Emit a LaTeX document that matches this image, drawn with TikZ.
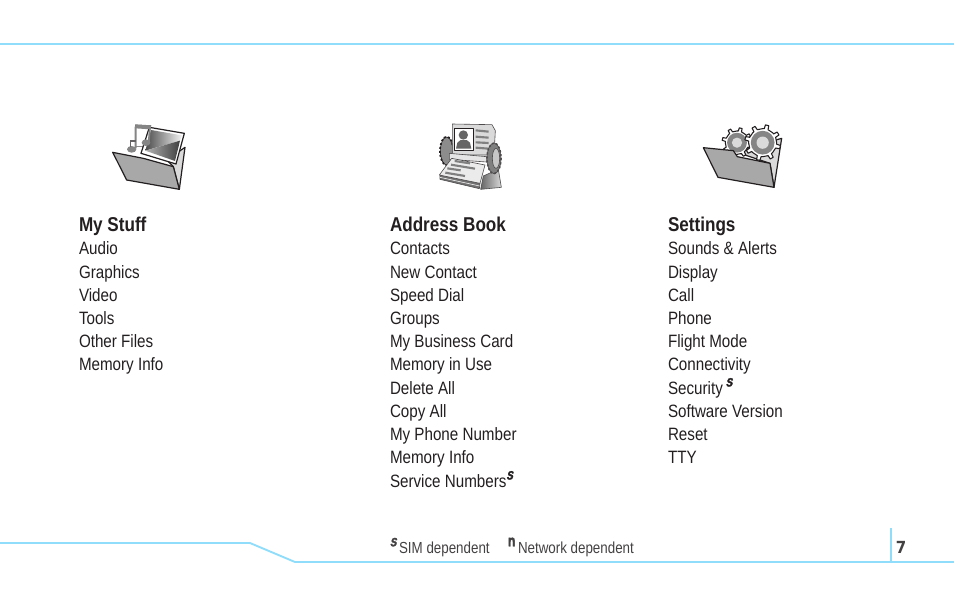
\documentclass[tikz,border=0pt]{standalone}
\usepackage{fontspec}
\setmainfont{Liberation Sans}
\newfontfamily\condfont[FakeStretch=0.85]{Liberation Sans}
\newfontfamily\headfont[FakeStretch=0.855]{Liberation Sans Bold}
\newfontfamily\notefont[FakeStretch=0.835]{Liberation Sans}
\newfontfamily\pagefont[FakeStretch=0.9]{DejaVu Sans Bold}
\newfontfamily\simfont[FakeBold=2.5,FakeSlant=0.2,FakeStretch=0.8]{Liberation Sans Bold}
\newfontfamily\netfont[FakeBold=2.5,FakeStretch=0.75]{Liberation Sans Bold}
\definecolor{rule}{HTML}{8FDDFA}
\definecolor{ink}{HTML}{231F20}
\definecolor{foldergray}{HTML}{A8A8A8}
\definecolor{midgray}{HTML}{858585}
\definecolor{lightgray2}{HTML}{DADADA}
\newcommand{\simmark}{\raisebox{.42em}{\fontsize{9pt}{9pt}\selectfont\simfont S}}
\newcommand{\netmark}{\raisebox{.42em}{\fontsize{12pt}{12pt}\selectfont\netfont n}}
\newcommand{\geardraw}[4]{%
  \fill[white,draw=ink,line width=.8pt,line join=round]
    ([shift={(#1,#2)}]0:#3*.78)
    \foreach \k [evaluate=\k as \bb using {(\k-1)*360/#4}, evaluate=\k as \ss using {360/#4}] in {1,...,#4} {
      -- ([shift={(#1,#2)}]\bb+\ss*.14:#3*.78)
      -- ([shift={(#1,#2)}]\bb+\ss*.2:#3)
      -- ([shift={(#1,#2)}]\bb+\ss*.44:#3)
      -- ([shift={(#1,#2)}]\bb+\ss*.5:#3*.78)
      -- ([shift={(#1,#2)}]\bb+\ss:#3*.78)
    } -- cycle;
  \fill[midgray] (#1,#2) circle[radius=#3*.66];
  \fill[lightgray2] (#1,#2) circle[radius=#3*.34];
}
\tikzset{
  x=.75pt,y=-.75pt,
  item/.style={anchor=base west,inner sep=0pt,outer sep=0pt,text=ink,font=\fontsize{13.4pt}{16pt}\condfont},
  head/.style={anchor=base west,inner sep=0pt,outer sep=0pt,text=ink,font=\fontsize{15pt}{18pt}\headfont},
  note/.style={anchor=base west,inner sep=0pt,outer sep=0pt,text=ink!85,font=\fontsize{12pt}{14pt}\notefont},
  rulel/.style={draw=rule,line width=1.4pt},
  outl/.style={draw=ink,line width=.9pt,line join=round},
  thinl/.style={draw=ink!80,line width=.45pt,line join=round},
  zoomed/.style={x=.25pt,y=-.25pt}
}
\begin{document}
\begin{tikzpicture}
\useasboundingbox (0,0) rectangle (954,593);
\fill[white] (0,0) rectangle (954,593);
% rules
\draw[rulel,line width=1.1pt] (0,44) -- (954,44);
\draw[rulel] (0,543) -- (250,543) -- (295,562) -- (954,562);
\draw[rulel] (891,528) -- (891,562);
% icon 1: folder with music and photo
\begin{scope}[shift={(90,110)},zoomed]
  \fill[lightgray2,outl] (230,150) -- (285,112) -- (268,238) -- (250,170) -- cycle;
  \fill[white,thinl] (136,45) -- (182,47) -- (178,110) -- (136,110) -- cycle;
  \fill[white,outl] (178,52) -- (283,70) -- (258,162) -- (153,130) -- cycle;
  \shade[left color=black!70,right color=black!5] (183,60) -- (276,76) -- (270,92) -- (166,122) -- cycle;
  \shade[left color=black!30,right color=black!75] (166,122) -- (270,92) -- (255,153) -- cycle;
  \fill[midgray] (136,43) -- (184,46) -- (182,58) -- (136,55) -- cycle;
  \draw[midgray,line width=1.4pt] (137,50) -- (137,115) (180,50) -- (176,100);
  \fill[midgray] (168,98) ellipse[x radius=13,y radius=10];
  \fill[midgray] (125,118) ellipse[x radius=14,y radius=10];
  \draw[ink!70,line width=.8pt] (122,110) -- (122,93) -- (138,93);
  \fill[foldergray,outl] (68,127) -- (160,145) -- (250,170) -- (268,238) -- (110,210) -- cycle;
\end{scope}
% icon 2: address card file
\begin{scope}[shift={(420,110)},zoomed]
  \fill[black!45,thinl,draw=ink] (80,123) ellipse[x radius=19,y radius=42];
  \draw[ink,line width=1.3pt,dash pattern=on 1.5pt off 1.5pt] (80,123) ellipse[x radius=20,y radius=43];
  \fill[lightgray2,thinl] (97,42) -- (216,44) -- (226,62) -- (222,135) -- (97,135) -- cycle;
  \fill[white,outl,line width=.6pt] (103,55) rectangle (160,122);
  \fill[black!60] (130,75) circle[radius=14];
  \fill[black!60] (108,116) -- (112,98) -- (122,90) -- (140,90) -- (150,98) -- (154,116) -- cycle;
  \draw[black!50,line width=1.6pt]
    (167,61) -- (206,65) (167,80) -- (206,83) (167,97) -- (206,99) (167,113) -- (206,116);
  \fill[black!10,thinl] (88,130) -- (200,140) -- (200,156) -- (88,148) -- cycle;
  \fill[black!55,thinl] (60,195) -- (180,220) -- (178,236) -- (60,208) -- cycle;
  \draw[white,line width=.4pt] (60,202) -- (179,228);
  \shade[left color=black!60,right color=black!15,thinl] (190,198) -- (235,178) -- (244,232) -- (182,238) -- cycle;
  \fill[black!8,thinl] (95,145) -- (195,165) -- (180,220) -- (58,195) -- cycle;
  \draw[black!50,line width=1.6pt]
    (104,153) -- (150,160) (93,164) -- (165,176) (82,175) -- (122,181) (76,188) -- (135,198);
  \fill[black!50,thinl] (222,145) ellipse[x radius=21,y radius=46];
  \draw[ink!80,line width=1.2pt,dash pattern=on 1.5pt off 1.5pt] (222,145) ellipse[x radius=21,y radius=46];
  \fill[black!22,thinl] (228,145) ellipse[x radius=11,y radius=30];
\end{scope}
% icon 3: folder with gears
\begin{scope}[shift={(690,110)},zoomed]
  \fill[lightgray2,outl] (135,125) -- (275,85) -- (252,232) -- (240,160) -- cycle;
  \geardraw{141}{98}{45}{8}
  \geardraw{218}{98}{54}{8}
  \fill[foldergray,outl] (40,113) -- (130,122) -- (142,140) -- (240,160) -- (252,232) -- (84,202) -- cycle;
\end{scope}
% column 1
\node[head] (a0) at (79,231) {My Stuff};
\node[item] (a1) at (79,254) {Audio};
\node[item] (a2) at (79,278) {Graphics};
\node[item] (a3) at (79,301) {Video};
\node[item] (a4) at (79,324) {Tools};
\node[item] (a5) at (79,347) {Other Files};
\node[item] (a6) at (79,370) {Memory Info};
% column 2
\node[head] (b0) at (390,231) {Address Book};
\node[item] (b1) at (390,254) {Contacts};
\node[item] (b2) at (390,278) {New Contact};
\node[item] (b3) at (390,301) {Speed Dial};
\node[item] (b4) at (390,324) {Groups};
\node[item] (b5) at (390,347) {My Business Card};
\node[item] (b6) at (390,370) {Memory in Use};
\node[item] (b7) at (390,394) {Delete All};
\node[item] (b8) at (390,417) {Copy All};
\node[item] (b9) at (390,440) {My Phone Number};
\node[item] (b10) at (390,463) {Memory Info};
\node[item] (b11) at (390,487) {Service Numbers\simmark};
% column 3
\node[head] (c0) at (668,231) {Settings};
\node[item] (c1) at (668,254) {Sounds \& Alerts};
\node[item] (c2) at (668,278) {Display};
\node[item] (c3) at (668,301) {Call};
\node[item] (c4) at (668,324) {Phone};
\node[item] (c5) at (668,347) {Flight Mode};
\node[item] (c6) at (668,370) {Connectivity};
\node[item] (c7) at (668,394) {Security\,\simmark};
\node[item] (c8) at (668,417) {Software Version};
\node[item] (c9) at (668,440) {Reset};
\node[item] (c10) at (668,463) {TTY};
% footnotes
\node[note] (n1) at (390,553) {\simmark\,SIM dependent};
\node[note] (n2) at (508,553) {\netmark\,Network dependent};
\node[anchor=base west,inner sep=0pt,text=ink!85,font=\fontsize{12.5pt}{14pt}\pagefont] (p) at (895.5,553) {7};
\end{tikzpicture}
\end{document}
